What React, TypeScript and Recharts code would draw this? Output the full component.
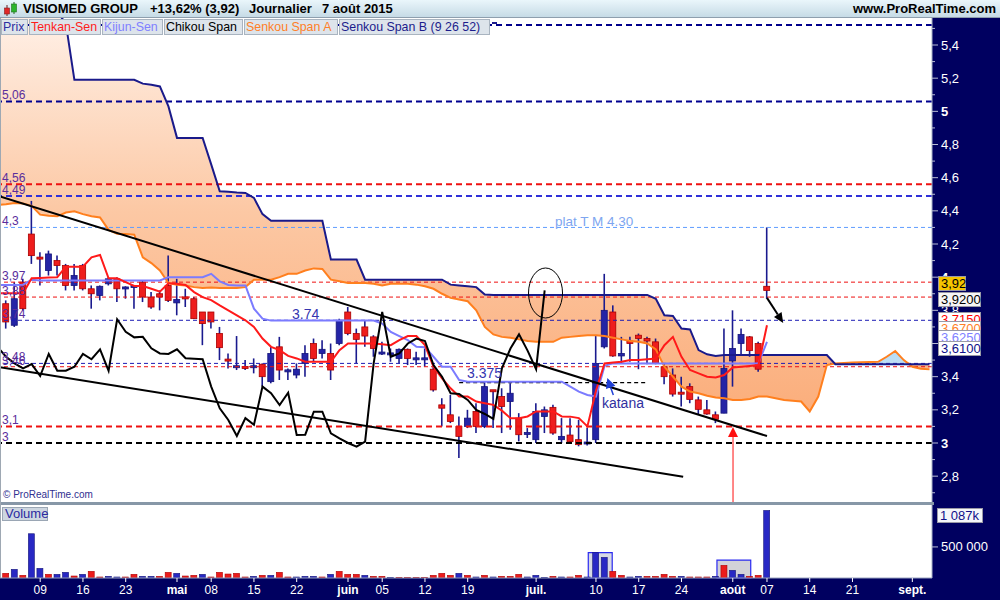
import React from "react";
import {
  ComposedChart,
  Bar,
  Line,
  Area,
  XAxis,
  YAxis,
  ReferenceLine,
  ReferenceDot,
  ReferenceArea,
} from "recharts";

// séances : index 0 = 1er avril 2015, index 89 = 7 août 2015
const opens = [
  3.84, 3.71, 3.97, 4.26, 4.12, 4.04, 4.1, 4.07, 3.95, 4.07,
  3.93, 3.89, 3.96, 3.99, 3.93, 3.94, 3.97, 3.88, 3.9, 3.95,
  3.845, 3.88, 3.87, 3.79, 3.79, 3.66, 3.505, 3.455, 3.46, 3.455,
  3.475, 3.37, 3.58, 3.43, 3.41, 3.48, 3.6, 3.54, 3.54, 3.6,
  3.79, 3.66, 3.7, 3.64, 3.54, 3.535, 3.51, 3.565, 3.505, 3.505,
  3.445, 3.23, 3.17, 3.1, 3.1, 3.19, 3.1, 3.32, 3.28, 3.25,
  3.15, 3.055, 3.02, 3.16, 3.215, 3.02, 3.048, 3.02, 2.995, 3.02,
  3.58, 3.79, 3.525, 3.615, 3.65, 3.63, 3.61, 3.46, 3.41, 3.306,
  3.34, 3.26, 3.2, 3.17, 3.18, 3.495, 3.6, 3.64, 3.6, 3.945,
];
const highs = [
  3.86, 3.97, 3.99, 4.46, 4.15, 4.16, 4.13, 4.08, 4.08, 4.08,
  3.95, 3.95, 4.0, 4.0, 3.945, 3.95, 3.98, 3.91, 3.92, 4.13,
  3.99, 3.93, 3.88, 3.79, 3.79, 3.7, 3.54, 3.645, 3.5, 3.51,
  3.48, 3.58, 3.64, 3.45, 3.48, 3.59, 3.63, 3.62, 3.6, 3.75,
  3.82, 3.69, 3.74, 3.65, 3.61, 3.57, 3.57, 3.57, 3.55, 3.57,
  3.48, 3.27, 3.29, 3.16, 3.2, 3.24, 3.37, 3.32, 3.33, 3.36,
  3.18, 3.09, 3.24, 3.22, 3.23, 3.15, 3.15, 3.14, 3.09, 3.65,
  4.02, 3.83, 3.64, 3.64, 3.66, 3.64, 3.63, 3.48, 3.45, 3.4,
  3.36, 3.28, 3.26, 3.19, 3.69, 3.8, 3.69, 3.645, 3.61, 4.3,
];
const lows = [
  3.69, 3.7, 3.8, 4.08, 3.95, 4.01, 4.01, 3.92, 3.92, 3.92,
  3.81, 3.86, 3.95, 3.85, 3.87, 3.81, 3.85, 3.81, 3.8, 3.85,
  3.77, 3.82, 3.75, 3.59, 3.69, 3.5, 3.45, 3.44, 3.44, 3.42,
  3.34, 3.36, 3.38, 3.38, 3.39, 3.4, 3.49, 3.51, 3.38, 3.59,
  3.65, 3.48, 3.58, 3.52, 3.53, 3.49, 3.48, 3.47, 3.47, 3.46,
  3.31, 3.1, 3.12, 2.91, 3.09, 3.06, 3.09, 3.09, 3.06, 3.08,
  3.01, 3.03, 3.0, 3.06, 3.05, 3.0, 3.0, 2.98, 2.985, 3.0,
  3.57, 3.52, 3.48, 3.49, 3.445, 3.475, 3.475, 3.355, 3.28, 3.22,
  3.24, 3.17, 3.17, 3.12, 3.18, 3.34, 3.53, 3.52, 3.43, 3.87,
];
const closes = [
  3.73, 3.87, 3.81, 4.13, 4.11, 4.14, 4.07, 3.95, 4.01, 3.93,
  3.9, 3.945, 3.99, 3.93, 3.94, 3.947, 3.88, 3.82, 3.88, 3.86,
  3.865, 3.87, 3.75, 3.72, 3.73, 3.575, 3.495, 3.465, 3.45, 3.465,
  3.4, 3.54, 3.44, 3.44, 3.445, 3.54, 3.51, 3.565, 3.44, 3.74,
  3.66, 3.625, 3.645, 3.57, 3.545, 3.54, 3.565, 3.51, 3.51, 3.51,
  3.32, 3.21, 3.13, 3.04, 3.15, 3.1, 3.34, 3.31, 3.22, 3.3,
  3.05, 3.06, 3.19, 3.2, 3.06, 3.04, 3.008, 2.99, 3.005, 3.48,
  3.8, 3.525, 3.54, 3.6, 3.63, 3.615, 3.48, 3.4, 3.295, 3.295,
  3.263, 3.203, 3.175, 3.143, 3.45, 3.57, 3.655, 3.557, 3.445, 3.92,
];
// volumes en milliers de titres
const volumes = [
  75, 139, 43, 712, 155, 59, 59, 91, 32, 59,
  107, 16, 27, 16, 16, 59, 27, 27, 27, 91,
  75, 32, 43, 59, 16, 91, 64, 75, 16, 27,
  43, 43, 91, 16, 16, 27, 27, 16, 59, 107,
  59, 59, 43, 27, 27, 11, 11, 11, 11, 11,
  43, 75, 43, 75, 43, 16, 43, 16, 27, 27,
  59, 16, 43, 11, 27, 16, 16, 43, 16, 407,
  332, 107, 43, 16, 27, 27, 27, 59, 27, 27,
  16, 16, 16, 27, 203, 123, 59, 27, 43, 1087,
];
// u = hausse (bleu), d = baisse (rouge)
const volDir =
  "duduuduudu" + "dduudduudd" + "uddudddddu" + "dudduuudud" + "dduddudddd" +
  "dddudududd" + "duuududduu" + "udduuddddu" + "ddduduuddu";

// indicateurs Ichimoku, premier point à l'index -1
const tenkan = [
  3.903,
  3.903, 3.903, 3.903, 3.993, 3.995, 3.998, 4.0, 4.063, 4.063, 4.063,
  4.12, 4.134, 3.993, 3.993, 3.97, 3.947, 3.947, 3.93, 3.913, 3.963,
  3.96, 3.953, 3.91, 3.88, 3.862, 3.83, 3.8, 3.77, 3.74, 3.7,
  3.63, 3.58, 3.56, 3.525, 3.51, 3.49, 3.49, 3.49, 3.49, 3.56,
  3.6, 3.6, 3.6, 3.6, 3.595, 3.59, 3.62, 3.645, 3.645, 3.59,
  3.46, 3.39, 3.33, 3.28, 3.28, 3.25, 3.24, 3.23, 3.195, 3.15,
  3.15, 3.16, 3.19, 3.19, 3.19, 3.16, 3.159, 3.15, 3.1, 3.315,
  3.48, 3.485, 3.49, 3.5, 3.5, 3.505, 3.51, 3.59, 3.64, 3.52,
  3.44, 3.42, 3.4, 3.395, 3.41, 3.455, 3.46, 3.465, 3.47, 3.71,
];
const kijun = [
  3.953,
  3.953, 3.953, 3.955, 3.985, 3.98, 3.98, 3.98, 3.98, 3.98, 3.98,
  3.98, 3.98, 3.98, 3.98, 3.98, 3.98, 3.98, 3.98, 3.98, 4.0,
  4.0, 4.0, 4.0, 4.0, 4.02, 3.975, 3.953, 3.95, 3.95, 3.81,
  3.75, 3.738, 3.738, 3.738, 3.738, 3.738, 3.738, 3.738, 3.738, 3.738,
  3.738, 3.738, 3.738, 3.738, 3.72, 3.67, 3.645, 3.62, 3.58, 3.577,
  3.52, 3.46, 3.46, 3.38, 3.37, 3.37, 3.37, 3.37, 3.37, 3.37,
  3.37, 3.37, 3.37, 3.37, 3.37, 3.37, 3.34, 3.31, 3.29, 3.28,
  3.465, 3.48, 3.48, 3.48, 3.48, 3.48, 3.48, 3.48, 3.48, 3.48,
  3.48, 3.48, 3.48, 3.48, 3.48, 3.48, 3.48, 3.48, 3.48, 3.61,
];
const chikou = [
  3.58,
  3.52, 3.48, 3.45, 3.476, 3.404, 3.537, 3.436, 3.436, 3.46, 3.537,
  3.505, 3.565, 3.436, 3.746, 3.671, 3.637, 3.64, 3.571, 3.54, 3.537,
  3.565, 3.511, 3.508, 3.505, 3.34, 3.209, 3.139, 3.042, 3.15, 3.11,
  3.34, 3.3, 3.229, 3.303, 3.048, 3.05, 3.189, 3.189, 3.058, 3.028,
  3.0, 2.978, 3.008, 3.48, 3.79, 3.52, 3.54, 3.6, 3.63, 3.615,
  3.47, 3.4, 3.3, 3.295, 3.26, 3.2, 3.175, 3.145, 3.45, 3.57,
  3.655, 3.557, 3.445, 3.92,
];
const spanA = [
  4.435,
  4.44, 4.447, 4.445, 4.43, 4.377, 4.37, 4.367, 4.39, 4.397, 4.38,
  4.367, 4.36, 4.285, 4.262, 4.26, 4.256, 4.12, 4.085, 4.04, 3.965,
  3.955, 3.95, 3.94, 3.935, 3.937, 3.935, 3.935, 3.935, 3.94, 3.985,
  3.985, 3.985, 4.0, 4.02, 4.02, 4.04, 4.053, 4.05, 3.985, 3.975,
  3.965, 3.965, 3.965, 3.96, 3.95, 3.96, 3.96, 3.96, 3.955, 3.945,
  3.93, 3.9, 3.875, 3.865, 3.855, 3.8, 3.7, 3.655, 3.64, 3.635,
  3.625, 3.615, 3.61, 3.61, 3.61, 3.635, 3.64, 3.645, 3.65, 3.65,
  3.645, 3.635, 3.625, 3.615, 3.61, 3.6, 3.565, 3.46, 3.4, 3.34,
  3.31, 3.3, 3.285, 3.275, 3.27, 3.26, 3.26, 3.265, 3.28, 3.28,
  3.27, 3.26, 3.255, 3.25, 3.19, 3.28, 3.47, 3.48, 3.482, 3.485,
  3.487, 3.488, 3.49, 3.52, 3.555, 3.5, 3.46, 3.448, 3.444,
];
const spanB = [
  5.6,
  5.6, 5.6, 5.6, 5.6, 5.6, 5.6, 5.6, 5.53, 5.19, 5.19,
  5.19, 5.19, 5.19, 5.19, 5.19, 5.19, 5.167, 5.16, 5.15, 5.03,
  4.84, 4.84, 4.84, 4.84, 4.68, 4.518, 4.515, 4.51, 4.508, 4.478,
  4.38, 4.34, 4.34, 4.34, 4.34, 4.34, 4.34, 4.34, 4.106, 4.106,
  4.106, 4.106, 3.985, 3.985, 3.985, 3.985, 3.985, 3.985, 3.985, 3.985,
  3.985, 3.985, 3.955, 3.95, 3.945, 3.94, 3.895, 3.893, 3.893, 3.893,
  3.893, 3.893, 3.893, 3.893, 3.893, 3.893, 3.893, 3.893, 3.893, 3.893,
  3.893, 3.893, 3.893, 3.893, 3.893, 3.893, 3.87, 3.77, 3.766, 3.69,
  3.685, 3.56, 3.535, 3.525, 3.53, 3.53, 3.53, 3.53, 3.53, 3.53,
  3.53, 3.53, 3.53, 3.53, 3.53, 3.53, 3.53, 3.475, 3.475, 3.475,
  3.475, 3.475, 3.475, 3.475, 3.475, 3.475, 3.475, 3.475, 3.475,
];

const dateTicks = [4, 9, 14, 20, 24, 29, 34, 40, 44, 49, 54, 62, 69, 74, 79, 85, 89, 94, 99, 106];
const dateLabels = ["09", "16", "23", "mai", "08", "15", "22", "juin", "05", "12", "19", "juil.", "10", "17", "24", "août", "07", "14", "21", "sept."];
const priceTicks = [
  2.7, 2.8, 2.9, 3.0, 3.1, 3.2, 3.3, 3.4, 3.5, 3.6, 3.7, 3.8, 3.9, 4.0, 4.1,
  4.2, 4.3, 4.4, 4.5, 4.6, 4.7, 4.8, 4.9, 5.0, 5.1, 5.2, 5.3, 5.4, 5.5,
];

const X_DOMAIN = [-0.7, 108.3];
const Y_DOMAIN = [2.6382, 5.5629];
const FONT = "'Liberation Sans', Arial, sans-serif";

const rows: any[] = [];
for (let i = -1; i <= 108; i++) {
  const k = i + 1;
  const row: any = { i };
  if (i >= 0 && i < closes.length) {
    row.o = opens[i];
    row.h = highs[i];
    row.l = lows[i];
    row.c = closes[i];
    row.range = [lows[i], highs[i]];
  }
  if (k < tenkan.length) row.tenkan = tenkan[k];
  if (k < kijun.length) row.kijun = kijun[k];
  if (k < chikou.length) row.chikou = chikou[k];
  const a = spanA[k];
  const b = spanB[k];
  row.a = a;
  row.b = b;
  row.orange = b >= a ? [a, b] : [a, a];
  row.blue = a > b ? [b, a] : [a, a];
  rows.push(row);
}

const volRows = volumes.map((v, i) => ({ i, vol: v * 1000, up: volDir[i] === "u" }));

const Candle = (props: any) => {
  const { x, y, width, height, payload } = props;
  if (!payload || payload.o == null) return null;
  const top = Math.min(y, y + height);
  const h = Math.abs(height);
  const span = payload.h - payload.l;
  const py = (v: number) => (span > 0 ? top + ((payload.h - v) / span) * h : top);
  const cx = x + width / 2;
  const up = payload.c >= payload.o;
  const yo = py(payload.o);
  const yc = py(payload.c);
  const bh = Math.max(Math.abs(yo - yc), 2);
  const bt = (yo + yc) / 2 - bh / 2;
  return (
    <g>
      <line x1={cx} x2={cx} y1={top} y2={top + h} stroke="#1a1a8e" strokeWidth={1.6} />
      <rect
        x={cx - 3}
        y={bt}
        width={6}
        height={bh}
        fill={up ? "#2424a6" : "#ee1d1d"}
        stroke={up ? "#15157a" : "#a80000"}
        strokeWidth={0.8}
      />
    </g>
  );
};

const VolBar = (p: any) => {
  const { x, y, width, height, payload } = p;
  if (!height) return null;
  return (
    <rect
      x={x}
      y={y}
      width={width}
      height={height}
      fill={payload.up ? "#2828c4" : "#ec1c1c"}
      stroke={payload.up ? "#14147a" : "#b00000"}
      strokeWidth={0.6}
    />
  );
};

const PriceTick = (p: any) => {
  const t = Math.round(p.payload.value * 10);
  const major = t % 2 === 0;
  const whole = t % 10 === 0;
  const label = whole ? String(t / 10) : (t / 10).toFixed(1).replace(".", ",");
  return (
    <g>
      <line x1={p.x} x2={p.x + (major ? 6 : 3)} y1={p.y} y2={p.y} stroke="#b8bcd4" />
      {major && (
        <text x={p.x + 9} y={p.y} dy={4.5} fill="#ffffff" fontSize={13} fontWeight={whole ? "bold" : "normal"}>
          {label}
        </text>
      )}
    </g>
  );
};

const VolTick = (p: any) => (
  <g>
    <line x1={p.x} x2={p.x + 6} y1={p.y} y2={p.y} stroke="#b8bcd4" />
    <text x={p.x + 9} y={p.y} dy={4.5} fill="#ffffff" fontSize={13}>
      500 000
    </text>
  </g>
);

const DateTick = (p: any) => {
  const label = dateLabels[dateTicks.indexOf(p.payload.value)];
  const bold = isNaN(Number(label));
  return (
    <g>
      <line x1={p.x} x2={p.x} y1={p.y} y2={p.y + 4} stroke="#ffffff" />
      <text x={p.x} y={p.y + 16} textAnchor="middle" fill="#ffffff" fontSize={12} fontWeight={bold ? "bold" : "normal"}>
        {label}
      </text>
    </g>
  );
};

const arrowLine = (color: string, w: number, headLen: number, headW: number) => (p: any) => {
  const { x1, y1, x2, y2 } = p;
  const dx = x2 - x1;
  const dy = y2 - y1;
  const len = Math.hypot(dx, dy) || 1;
  const ux = dx / len;
  const uy = dy / len;
  const bx = x2 - ux * headLen;
  const by = y2 - uy * headLen;
  const pts = `${x2},${y2} ${bx - uy * headW},${by + ux * headW} ${bx + uy * headW},${by - ux * headW}`;
  return (
    <g>
      <line x1={x1} y1={y1} x2={bx} y2={by} stroke={color} strokeWidth={w} />
      <polygon points={pts} fill={color} />
    </g>
  );
};

const textAt = (txt: string, color: string, size: number) => (p: any) => (
  <text x={p.cx} y={p.cy} fill={color} fontSize={size} fontFamily={FONT}>
    {txt}
  </text>
);

const lvlLabel = (value: string) => ({
  value,
  position: "insideBottomLeft" as const,
  offset: 2,
  fill: "#5a2d9c",
  fontSize: 12,
});

const legendItems = [
  { text: "Prix", color: "#2e2ea0", left: 1, width: 27 },
  { text: "Tenkan-Sen", color: "#ff1c1c", left: 29, width: 72 },
  { text: "Kijun-Sen", color: "#8080ff", left: 102, width: 61 },
  { text: "Chikou Span", color: "#000000", left: 164, width: 79 },
  { text: "Senkou Span A", color: "#ff7f27", left: 244, width: 94 },
  { text: "Senkou Span B (9 26 52)", color: "#1c1c8c", left: 339, width: 151 },
];

const priceBoxes = [
  { text: "3,92", color: "#000000", bg: "#f5c400", top: 276, width: 28 },
  { text: "3,9200", color: "#000000", bg: "#f6f6f6", top: 292, width: 43 },
  { text: "3,7150", color: "#ff0000", bg: "#ffffff", top: 312, width: 43 },
  { text: "3,6700", color: "#ff7f27", bg: "#ffffff", top: 321, width: 43 },
  { text: "3,6250", color: "#8080ff", bg: "#ffffff", top: 330, width: 43 },
  { text: "3,6100", color: "#10108a", bg: "#ffffff", top: 341, width: 43 },
];

export default function App() {
  return (
    <div
      style={{
        position: "fixed",
        left: 0,
        top: 0,
        width: 1000,
        height: 600,
        background: "#000060",
        overflow: "hidden",
        fontFamily: FONT,
      }}
    >
      <div style={{ position: "absolute", left: 0, top: 18, width: 932, height: 485, background: "#ffffff" }} />
      <div style={{ position: "absolute", left: 0, top: 505, width: 932, height: 73, background: "#ffffff" }} />

      <div style={{ position: "absolute", left: 0, top: 0 }}>
        <ComposedChart width={1000} height={503} data={rows} margin={{ top: 18, right: 0, bottom: 0, left: 0 }}>
          <defs>
            <linearGradient id="cloudO" x1="0" y1="0" x2="0" y2="1">
              <stop offset="0%" stopColor="#fff1e8" />
              <stop offset="50%" stopColor="#fcc8a4" />
              <stop offset="100%" stopColor="#fbae7c" />
            </linearGradient>
            <linearGradient id="cloudB" x1="0" y1="0" x2="0" y2="1">
              <stop offset="0%" stopColor="#7fc0ec" />
              <stop offset="100%" stopColor="#cfe8f8" />
            </linearGradient>
          </defs>
          <XAxis dataKey="i" type="number" domain={X_DOMAIN} allowDataOverflow hide />
          <YAxis
            orientation="right"
            type="number"
            domain={Y_DOMAIN}
            allowDataOverflow
            ticks={priceTicks}
            interval={0}
            tickSize={0}
            tickMargin={0}
            width={68}
            axisLine={{ stroke: "#a8b2c4" }}
            tick={(p: any) => <PriceTick {...p} />}
          />

          <Area dataKey="orange" type="linear" stroke="none" fill="url(#cloudO)" fillOpacity={1} isAnimationActive={false} />
          <Area dataKey="blue" type="linear" stroke="none" fill="url(#cloudB)" fillOpacity={1} isAnimationActive={false} />

          <ReferenceLine y={5.52} stroke="#00008b" strokeWidth={2} strokeDasharray="6 4" />
          <ReferenceLine y={5.06} stroke="#000090" strokeWidth={2} strokeDasharray="6 4" label={lvlLabel("5,06")} />
          <ReferenceLine y={4.56} stroke="#ee1111" strokeWidth={2} strokeDasharray="6 4" label={lvlLabel("4,56")} />
          <ReferenceLine y={4.49} stroke="#3030d8" strokeWidth={2} strokeDasharray="6 4" label={lvlLabel("4,49")} />
          <ReferenceLine y={4.3} stroke="#5f9cff" strokeWidth={1} strokeDasharray="4 3" label={lvlLabel("4,3")} />
          <ReferenceLine y={3.97} stroke="#ee1111" strokeWidth={1} strokeDasharray="4 3" label={lvlLabel("3,97")} />
          <ReferenceLine y={3.88} stroke="#ee1111" strokeWidth={1} strokeDasharray="4 3" label={lvlLabel("3,88")} />
          <ReferenceLine y={3.74} stroke="#1c1cb4" strokeWidth={1} strokeDasharray="4 3" label={lvlLabel("3,74")} />
          <ReferenceLine y={3.48} stroke="#1c1cb4" strokeWidth={1} strokeDasharray="4 3" label={lvlLabel("3,48")} />
          <ReferenceLine y={3.46} stroke="#ee1111" strokeWidth={1} strokeDasharray="4 3" label={lvlLabel("3,46")} />
          <ReferenceLine y={3.1} stroke="#ee1111" strokeWidth={2} strokeDasharray="6 4" label={lvlLabel("3,1")} />
          <ReferenceLine y={3.0} stroke="#000000" strokeWidth={2} strokeDasharray="6 4" label={lvlLabel("3")} />
          <ReferenceLine
            segment={[{ x: 53, y: 3.364 }, { x: 75, y: 3.364 }]}
            stroke="#000000"
            strokeWidth={1.2}
            strokeDasharray="4 3"
          />

          <Bar dataKey="range" barSize={6} shape={(p: any) => <Candle {...p} />} isAnimationActive={false} />

          <Line dataKey="a" type="linear" stroke="#ff7f1e" strokeWidth={2} dot={false} isAnimationActive={false} />
          <Line dataKey="b" type="linear" stroke="#1a1a8a" strokeWidth={2} dot={false} isAnimationActive={false} />
          <Line dataKey="kijun" type="linear" stroke="#7b7bff" strokeWidth={2} dot={false} isAnimationActive={false} />
          <Line dataKey="tenkan" type="linear" stroke="#ff1a1a" strokeWidth={2} dot={false} isAnimationActive={false} />
          <Line dataKey="chikou" type="linear" stroke="#000000" strokeWidth={2} dot={false} isAnimationActive={false} />

          <ReferenceLine segment={[{ x: -0.7, y: 4.487 }, { x: 89, y: 3.042 }]} stroke="#000000" strokeWidth={2} />
          <ReferenceLine segment={[{ x: -0.7, y: 3.457 }, { x: 79.2, y: 2.797 }]} stroke="#000000" strokeWidth={2} />
          <ReferenceLine
            segment={[{ x: 89, y: 3.875 }, { x: 90.9, y: 3.724 }]}
            shape={arrowLine("#000000", 2, 10, 4.5)}
          />
          <ReferenceLine
            segment={[{ x: 85.03, y: 2.6382 }, { x: 85.03, y: 3.097 }]}
            shape={arrowLine("#ff1010", 1, 10, 5)}
          />
          <ReferenceLine
            segment={[{ x: 71.03, y: 3.289 }, { x: 70.33, y: 3.392 }]}
            shape={arrowLine("#1f3fd6", 1.5, 10, 5)}
          />
          <ReferenceDot
            x={63.1}
            y={3.9045}
            r={0}
            shape={(p: any) => <ellipse cx={p.cx} cy={p.cy} rx={17} ry={25} fill="none" stroke="#000000" strokeWidth={1} />}
          />
          <ReferenceDot x={64.2} y={4.31} r={0} shape={textAt("plat T M 4.30", "#7ea6f0", 13.5)} />
          <ReferenceDot x={33.45} y={3.75} r={0} shape={textAt("3.74", "#3535b0", 14)} />
          <ReferenceDot x={53.92} y={3.392} r={0} shape={textAt("3.375", "#3535b0", 14)} />
          <ReferenceDot x={69.7} y={3.211} r={0} shape={textAt("katana", "#3030a0", 14)} />
        </ComposedChart>
      </div>

      <div style={{ position: "absolute", left: 0, top: 503 }}>
        <ComposedChart width={1000} height={97} data={volRows} margin={{ top: 2, right: 0, bottom: 0, left: 0 }}>
          <XAxis
            dataKey="i"
            type="number"
            domain={X_DOMAIN}
            allowDataOverflow
            ticks={dateTicks}
            interval={0}
            tickSize={0}
            tickMargin={0}
            height={22}
            axisLine={{ stroke: "#9aa4c0" }}
            tick={(p: any) => <DateTick {...p} />}
          />
          <YAxis
            orientation="right"
            type="number"
            domain={[0, 1175000]}
            allowDataOverflow
            ticks={[500000]}
            interval={0}
            tickSize={0}
            tickMargin={0}
            width={68}
            axisLine={{ stroke: "#a8b2c4" }}
            tick={(p: any) => <VolTick {...p} />}
          />
          <ReferenceArea x1={68.1} x2={70.9} y1={0} y2={407000} fill="#d6d9e4" fillOpacity={1} stroke="#2a2af0" strokeWidth={1.2} />
          <ReferenceArea x1={83.15} x2={87.1} y1={0} y2={288000} fill="#d2d2d8" fillOpacity={1} stroke="#2a2af0" strokeWidth={1.2} />
          <Bar dataKey="vol" barSize={6} shape={(p: any) => <VolBar {...p} />} isAnimationActive={false} />
        </ComposedChart>
      </div>

      {/* séparateurs et bordures */}
      <div style={{ position: "absolute", left: 0, top: 502, width: 934, height: 3, background: "#8797a7" }} />
      <div style={{ position: "absolute", left: 0, top: 18, width: 1, height: 560, background: "#9ea8b3" }} />
      <div style={{ position: "absolute", left: 3, top: 489, fontSize: 10, color: "#303090" }}>© ProRealTime.com</div>

      {/* barre de titre */}
      <div
        style={{
          position: "absolute",
          left: 0,
          top: 0,
          width: 1000,
          height: 18,
          background: "linear-gradient(#eaf6fb, #c6dbe6)",
          borderBottom: "1px solid #8e9fae",
          boxSizing: "border-box",
        }}
      >
        <svg width={18} height={16} style={{ position: "absolute", left: 2, top: 1 }}>
          <line x1={5} x2={5} y1={4} y2={15} stroke="#6a2020" />
          <rect x={2.5} y={7} width={5} height={6} fill="#e02828" stroke="#802020" strokeWidth={0.6} />
          <line x1={12} x2={12} y1={1} y2={13} stroke="#206a20" />
          <rect x={9.5} y={3} width={5} height={8} fill="#2cb52c" stroke="#207020" strokeWidth={0.6} />
        </svg>
        <span style={{ position: "absolute", left: 23, top: 1, fontSize: 13, fontWeight: "bold", lineHeight: "16px" }}>
          VISIOMED GROUP
        </span>
        <span style={{ position: "absolute", left: 150, top: 1, fontSize: 13, fontWeight: "bold", lineHeight: "16px" }}>
          +13,62% (3,92)
        </span>
        <span style={{ position: "absolute", left: 249, top: 1, fontSize: 13, fontWeight: "bold", lineHeight: "16px" }}>
          Journalier
        </span>
        <span style={{ position: "absolute", left: 322, top: 1, fontSize: 13, fontWeight: "bold", lineHeight: "16px" }}>
          7 août 2015
        </span>
        <span style={{ position: "absolute", right: 4, top: 1, fontSize: 13, fontWeight: "bold", lineHeight: "16px" }}>
          www.ProRealTime.com
        </span>
      </div>

      {/* légende */}
      {legendItems.map((it) => (
        <div
          key={it.text}
          style={{
            position: "absolute",
            left: it.left,
            top: 19,
            width: it.width,
            height: 16,
            boxSizing: "border-box",
            background: "#dde4eb",
            border: "1px solid #a9b4c0",
            color: it.color,
            fontSize: 12.4,
            lineHeight: "14px",
            paddingLeft: 1,
            whiteSpace: "nowrap",
            overflow: "hidden",
          }}
        >
          {it.text}
        </div>
      ))}
      <div style={{ position: "absolute", left: 492, top: 22, width: 5, height: 2, background: "#1c1c8c" }} />

      {/* étiquettes de l'axe des prix */}
      {priceBoxes.map((b) => (
        <div
          key={b.text}
          style={{
            position: "absolute",
            left: 938,
            top: b.top,
            width: b.width,
            height: 15,
            boxSizing: "border-box",
            background: b.bg,
            border: "1px solid #9a9aa6",
            color: b.color,
            fontSize: 13,
            lineHeight: "13px",
            paddingLeft: 2,
          }}
        >
          {b.text}
        </div>
      ))}

      {/* volume */}
      <div
        style={{
          position: "absolute",
          left: 2,
          top: 507,
          width: 46,
          height: 14,
          boxSizing: "border-box",
          background: "#cdd6e0",
          border: "1px solid #9aa6b4",
          color: "#2a2aa0",
          fontSize: 13,
          lineHeight: "12px",
          paddingLeft: 2,
        }}
      >
        Volume
      </div>
      <div
        style={{
          position: "absolute",
          left: 937,
          top: 508,
          width: 46,
          height: 15,
          boxSizing: "border-box",
          background: "#f4f6fa",
          border: "1px solid #9a9aa6",
          color: "#10108a",
          fontSize: 13,
          lineHeight: "13px",
          paddingLeft: 2,
        }}
      >
        1 087k
      </div>
    </div>
  );
}
